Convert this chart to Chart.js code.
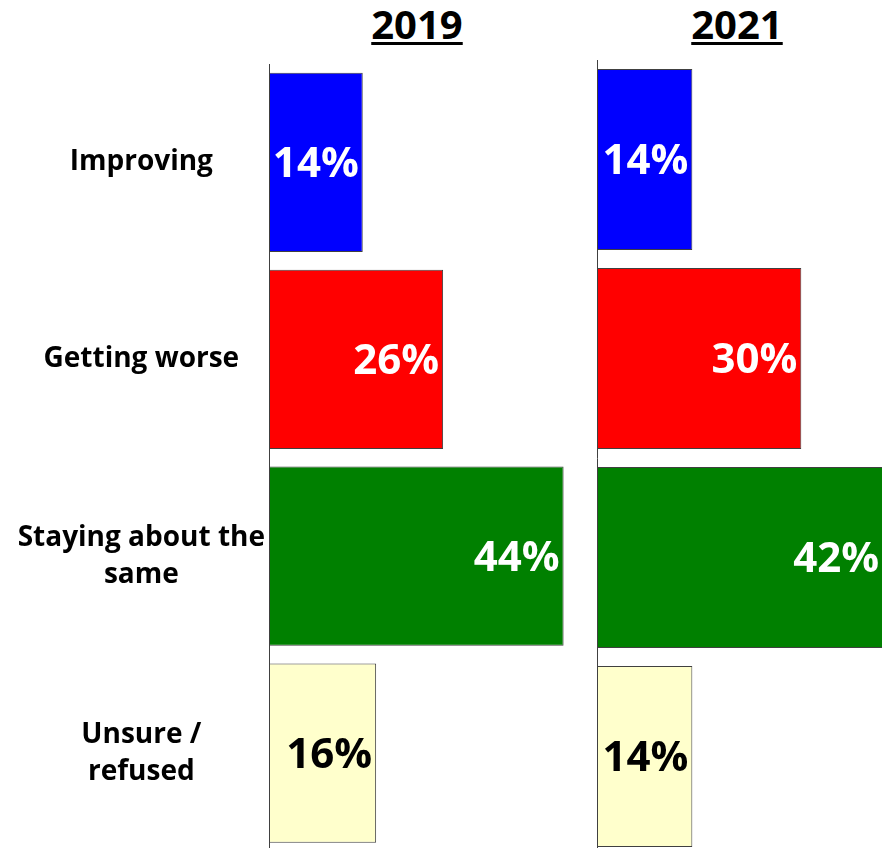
<!DOCTYPE html>
<html>
<head>
<meta charset="utf-8">
<script src="https://cdn.jsdelivr.net/npm/chart.js@4"></script>
<style>
    html, body { margin: 0; padding: 0; background: #ffffff; overflow: hidden; }
    body { width: 882px; height: 848px; position: relative; }
    .panel { position: absolute; top: 0; }
    .year {
        position: absolute; top: -4px; width: 200px; text-align: center;
        font-family: 'Open Sans', sans-serif; font-weight: bold; font-size: 40px;
        text-decoration: underline; text-decoration-thickness: 3px; text-underline-offset: 3px;
        color: #000;
    }
</style>
</head>
<body>
<div class="year" style="left:317px">2019</div>
<div class="year" style="left:637px">2021</div>
<div class="panel" style="left:0; width:577px; height:874px;"><canvas id="chart2019"></canvas></div>
<div class="panel" style="left:587px; width:296px; height:856px;"><canvas id="chart2021"></canvas></div>
<script>
// Survey answers, 2019 vs 2021
const categories = ['Improving', 'Getting worse', ['Staying about the', 'same'], ['Unsure /', 'refused']];
const values2019 = [14, 26, 44, 16];
const values2021 = [14, 30, 42, 14];
const barColors = ['#0000ff', '#ff0000', '#008000', '#ffffcc'];
const labelColors = ['#ffffff', '#ffffff', '#ffffff', '#000000'];

// Value labels drawn inside the end of each bar
const valueLabels = {
    id: 'valueLabels',
    afterDatasetsDraw(chart) {
        const ctx = chart.ctx;
        const meta = chart.getDatasetMeta(0);
        const data = chart.data.datasets[0].data;
        ctx.save();
        ctx.font = 'bold 42px "Open Sans", sans-serif';
        ctx.textAlign = 'right';
        ctx.textBaseline = 'middle';
        meta.data.forEach((bar, i) => {
            ctx.fillStyle = labelColors[i];
            ctx.fillText(data[i] + '%', Math.min(bar.x, chart.chartArea.right) - 4, bar.y + 3);
        });
        ctx.restore();
    }
};

function makeChart(id, values, maxVal, topPad, axisWidth, showLabels) {
    const ctx = document.getElementById(id).getContext('2d');
    return new Chart(ctx, {
        type: 'bar',
        data: {
            labels: categories,
            datasets: [{
                data: values,
                backgroundColor: barColors,
                borderColor: '#404040',
                borderWidth: 1,
                borderSkipped: false,
                barPercentage: 0.91,
                categoryPercentage: 1
            }]
        },
        options: {
            indexAxis: 'y',
            responsive: true,
            maintainAspectRatio: false,
            animation: false,
            layout: { padding: { top: topPad, bottom: 0, left: 0, right: 0 } },
            plugins: {
                legend: { display: false },
                tooltip: { enabled: false }
            },
            scales: {
                x: {
                    display: false,
                    min: 0,
                    max: maxVal
                },
                y: {
                    grid: { display: false, drawTicks: false },
                    border: { display: true, color: '#404040', width: 1 },
                    ticks: {
                        display: showLabels,
                        crossAlign: 'center',
                        padding: 4,
                        color: '#000000',
                        font: { family: "'Open Sans', sans-serif", weight: 'bold', size: 28, lineHeight: 1.32 }
                    },
                    afterFit(scale) { scale.width = axisWidth; }
                }
            }
        },
        plugins: [valueLabels]
    });
}

makeChart('chart2019', values2019, 46, 64, 269, true);
makeChart('chart2021', values2021, 42, 60, 10, false);
</script>
</body>
</html>
